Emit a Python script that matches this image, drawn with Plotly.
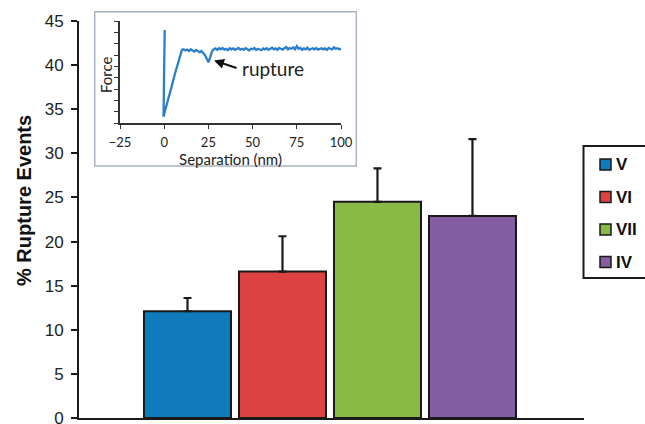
import plotly.graph_objects as go

# ---------------- data ----------------
categories = ["V", "VI", "VII", "IV"]
rupture_pct = [12.1, 16.6, 24.5, 22.9]
rupture_err_up = [1.5, 4.0, 3.8, 8.7]
bar_colors = ["#0f7bbd", "#dc4340", "#8aba46", "#845da2"]

y_ticks = [0, 5, 10, 15, 20, 25, 30, 35, 40, 45]

# inset force curve (separation in nm, force in arbitrary tick units)
force_x = [0.3, 0.2, 0.1, 0.0, -0.1, -0.2, -0.3, -0.4, 0.5, 2, 4, 6, 8, 10,
           11, 12, 13, 14, 15, 16, 17, 18, 19, 20, 21, 22, 23, 24, 25, 26, 27,
           28, 29, 30, 31, 32, 33, 34, 35, 36, 37, 38, 39, 40, 41, 42, 43, 44,
           45, 46, 47, 48, 49, 50, 51, 52, 53, 54, 55, 56, 57, 58, 59, 60, 61,
           62, 63, 64, 65, 66, 67, 68, 69, 70, 71, 72, 73, 74, 75, 76, 77, 78,
           79, 80, 81, 82, 83, 84, 85, 86, 87, 88, 89, 90, 91, 92, 93, 94, 95,
           96, 97, 98, 99, 100]
force_y = [8.2, 7.6, 6.8, 5.5, 4.0, 2.5, 1.2, 0.55, 1.1, 1.9, 3.1, 4.3, 5.5, 6.45,
           6.5, 6.4, 6.48, 6.35, 6.5, 6.42, 6.3, 6.45, 6.38, 6.25, 6.35, 6.2, 6.0, 5.7, 5.35, 5.8, 6.3,
           6.5, 6.58, 6.45, 6.6, 6.5, 6.62, 6.48, 6.55, 6.42, 6.6, 6.5, 6.58, 6.45, 6.55, 6.62, 6.48, 6.55,
           6.45, 6.6, 6.52, 6.4, 6.55, 6.5, 6.62, 6.45, 6.55, 6.5, 6.42, 6.58, 6.5, 6.6, 6.45, 6.55, 6.65,
           6.5, 6.58, 6.45, 6.62, 6.55, 6.48, 6.6, 6.7, 6.5, 6.62, 6.55, 6.68, 6.5, 6.78, 6.55, 6.62, 6.45,
           6.58, 6.5, 6.65, 6.45, 6.55, 6.6, 6.5, 6.62, 6.48, 6.55, 6.6, 6.5, 6.58, 6.45, 6.62, 6.55, 6.5,
           6.68, 6.55, 6.6, 6.5, 6.55]
inset_x_ticks = [-25, 0, 25, 50, 75, 100]

# ---------------- layout helpers (pixel -> paper) ----------------
W, H = 645, 424
PL, PR, PT, PB = 79, 584, 21, 418


def px(xp):
    return (xp - PL) / (PR - PL)


def py(yp):
    return (PB - yp) / (PB - PT)


MAIN_FONT = "Liberation Sans, Arial, sans-serif"
INSET_FONT = "Lato, Open Sans, sans-serif"

fig = go.Figure()

fig.add_trace(go.Bar(
    x=categories, y=rupture_pct,
    marker=dict(color=bar_colors, line=dict(color="#1a1a1a", width=2)),
    width=0.916,
    error_y=dict(type="data", symmetric=False, array=rupture_err_up,
                 arrayminus=[0] * len(rupture_err_up),
                 color="#1a1a1a", thickness=2.2, width=4),
    showlegend=False, xaxis="x", yaxis="y", hoverinfo="skip",
))

fig.add_trace(go.Scatter(
    x=force_x, y=force_y, mode="lines",
    line=dict(color="#2a7fcc", width=2.3),
    showlegend=False, xaxis="x2", yaxis="y2", hoverinfo="skip",
))

shapes = []
annotations = []

# inset frame
shapes.append(dict(type="rect", xref="paper", yref="paper",
                   x0=px(94.7), x1=px(356.3), y0=py(166), y1=py(11.7),
                   line=dict(color="#aab4c0", width=1.5), fillcolor="rgba(0,0,0,0)",
                   layer="above"))

# manual legend
shapes.append(dict(type="rect", xref="paper", yref="paper",
                   x0=px(583.5), x1=px(700), y0=py(278), y1=py(146),
                   line=dict(color="#1a1a1a", width=2), fillcolor="white",
                   layer="above"))
leg_y0, leg_dy = 164.5, 32.5
for i, (cat, col) in enumerate(zip(categories, bar_colors)):
    yc = leg_y0 + i * leg_dy
    shapes.append(dict(type="rect", xref="paper", yref="paper",
                       x0=px(600), x1=px(611), y0=py(yc + 5.5), y1=py(yc - 5.5),
                       line=dict(color="#1a1a1a", width=1.5), fillcolor=col,
                       layer="above"))
    annotations.append(dict(x=px(614), y=py(yc), xref="paper", yref="paper",
                            text="<b>%s</b>" % cat, showarrow=False,
                            xanchor="left", yanchor="middle",
                            font=dict(family=MAIN_FONT, size=17, color="#111")))

# y-axis title
annotations.append(dict(x=px(24), y=py(201), xref="paper", yref="paper",
                        text="<b>% Rupture Events</b>", showarrow=False,
                        textangle=-90, xanchor="center", yanchor="middle",
                        font=dict(family=MAIN_FONT, size=20, color="#111")))

# inset y title
annotations.append(dict(x=px(106), y=py(75), xref="paper", yref="paper",
                        text="Force", showarrow=False, textangle=-90,
                        xanchor="center", yanchor="middle",
                        font=dict(family=INSET_FONT, size=15, color="#222")))

# inset annotations
annotations.append(dict(x=px(240), y=py(68), xref="paper", yref="paper",
                        text="rupture", showarrow=False, xanchor="left",
                        yanchor="middle",
                        font=dict(family=INSET_FONT, size=19, color="#222")))
annotations.append(dict(x=px(214), y=py(60.5), xref="paper", yref="paper",
                        text="", showarrow=True, ax=24, ay=8,
                        arrowhead=2, arrowsize=1, arrowwidth=2,
                        arrowcolor="#111"))

fig.update_layout(
    width=W, height=H,
    margin=dict(l=PL, r=W - PR, t=PT, b=H - PB, autoexpand=False),
    paper_bgcolor="white", plot_bgcolor="white",
    showlegend=False, hovermode=False,
    shapes=shapes, annotations=annotations,
    xaxis=dict(type="category", range=[-1.142, 4.174], showticklabels=False,
               ticks="", showline=True, linecolor="#1a1a1a", linewidth=2,
               showgrid=False, zeroline=False, fixedrange=True),
    yaxis=dict(range=[0, 45], tickvals=y_ticks, ticks="outside", ticklen=6,
               tickwidth=2, tickcolor="#1a1a1a", showline=True,
               linecolor="#1a1a1a", linewidth=2, showgrid=False, zeroline=False,
               tickfont=dict(family=MAIN_FONT, size=17, color="#222"),
               ticklabelstandoff=4, ticklabeloverflow="allow"),
    xaxis2=dict(domain=[px(120), px(341)], anchor="y2", range=[-25, 100],
                tickvals=inset_x_ticks, ticks="outside", ticklen=4,
                tickcolor="#333", showline=True, linecolor="#333",
                linewidth=1.5, showgrid=False, zeroline=False,
                tickfont=dict(family=INSET_FONT, size=13, color="#222"),
                ticklabelstandoff=3,
                title=dict(text="Separation (nm)", standoff=0,
                           font=dict(family=INSET_FONT, size=15, color="#222"))),
    yaxis2=dict(domain=[py(123), 1.0], anchor="x2", range=[0, 9],
                dtick=1, ticks="outside", ticklen=4, tickcolor="#333",
                showticklabels=False, showline=True, linecolor="#333",
                linewidth=1.5, showgrid=False, zeroline=False),
)

fig.write_html("out.html", config={"displayModeBar": False},
               post_script="document.body.style.margin='0';document.body.style.padding='0';")
